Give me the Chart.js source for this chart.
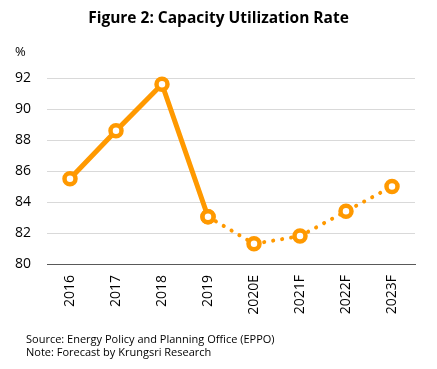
<!DOCTYPE html>
<html>
<head>
<meta charset="utf-8">
<script src="https://cdn.jsdelivr.net/npm/chart.js@4"></script>
<style>
  html, body { margin: 0; padding: 0; background: #fff; }
  #wrap { position: relative; width: 437px; height: 369px; overflow: hidden; font-family: "Open Sans", sans-serif; color: #000; }
  #c { position: absolute; left: 0; top: 0; }
  .t { position: absolute; white-space: nowrap; }
  #title { left: 0; width: 437px; text-align: center; top: 6px; font-weight: bold; font-size: 15.5px; }
  #pct { left: 15px; top: 42px; font-size: 13px; }
  #src { left: 26px; top: 332px; font-size: 11px; line-height: 13px; }
</style>
</head>
<body>
<div id="wrap">
  <canvas id="c" width="437" height="369"></canvas>
  <div class="t" id="title">Figure 2: Capacity Utilization Rate</div>
  <div class="t" id="pct">%</div>
  <div class="t" id="src">Source: Energy Policy and Planning Office (EPPO)<br>Note: Forecast by Krungsri Research</div>
</div>
<script>
const categories = ["2016", "2017", "2018", "2019", "2020E", "2021F", "2022F", "2023F"];
const actualValues = [85.5, 88.6, 91.6, 83.05, null, null, null, null];
const forecastValues = [null, null, null, 83.05, 81.3, 81.8, 83.4, 85.0];
const yTicks = [80, 82, 84, 86, 88, 90, 92];

const orange = "#FF9900";
const pointStyle = {
  pointRadius: 5.5,
  pointHoverRadius: 5.5,
  pointBorderWidth: 4.5,
  pointBorderColor: orange,
  pointBackgroundColor: "#ffffff"
};

new Chart(document.getElementById("c"), {
  type: "line",
  data: {
    labels: categories,
    datasets: [
      Object.assign({
        label: "Forecast",
        data: forecastValues,
        borderColor: orange,
        borderWidth: 4,
        borderDash: [0.1, 9],
        borderCapStyle: "round",
        spanGaps: false,
        clip: false,
        order: 2
      }, pointStyle),
      Object.assign({
        label: "Actual",
        data: actualValues,
        borderColor: orange,
        borderWidth: 5,
        borderJoinStyle: "round",
        spanGaps: false,
        clip: false,
        order: 1
      }, pointStyle)
    ]
  },
  options: {
    responsive: false,
    animation: false,
    layout: { padding: { top: 78, right: 22, left: 0, bottom: 0 } },
    plugins: { legend: { display: false }, tooltip: { enabled: false }, title: { display: false } },
    scales: {
      x: {
        offset: true,
        grid: { display: false, drawTicks: false, offset: true },
        border: { display: true, color: "#595959", width: 1 },
        ticks: {
          minRotation: 90, maxRotation: 90, padding: 11,
          color: "#000", font: { family: "Open Sans", size: 14 }
        },
        afterFit: s => { s.height = 105; }
      },
      y: {
        min: 80, max: 92,
        afterBuildTicks: s => { s.ticks = yTicks.map(v => ({ value: v })); },
        grid: { color: "#d9d9d9", lineWidth: 1, drawTicks: false },
        border: { display: false },
        ticks: {
          padding: 16, color: "#000",
          font: { family: "Open Sans", size: 14 }
        },
        afterFit: s => { s.width = 47; }
      }
    }
  }
});
</script>
</body>
</html>
